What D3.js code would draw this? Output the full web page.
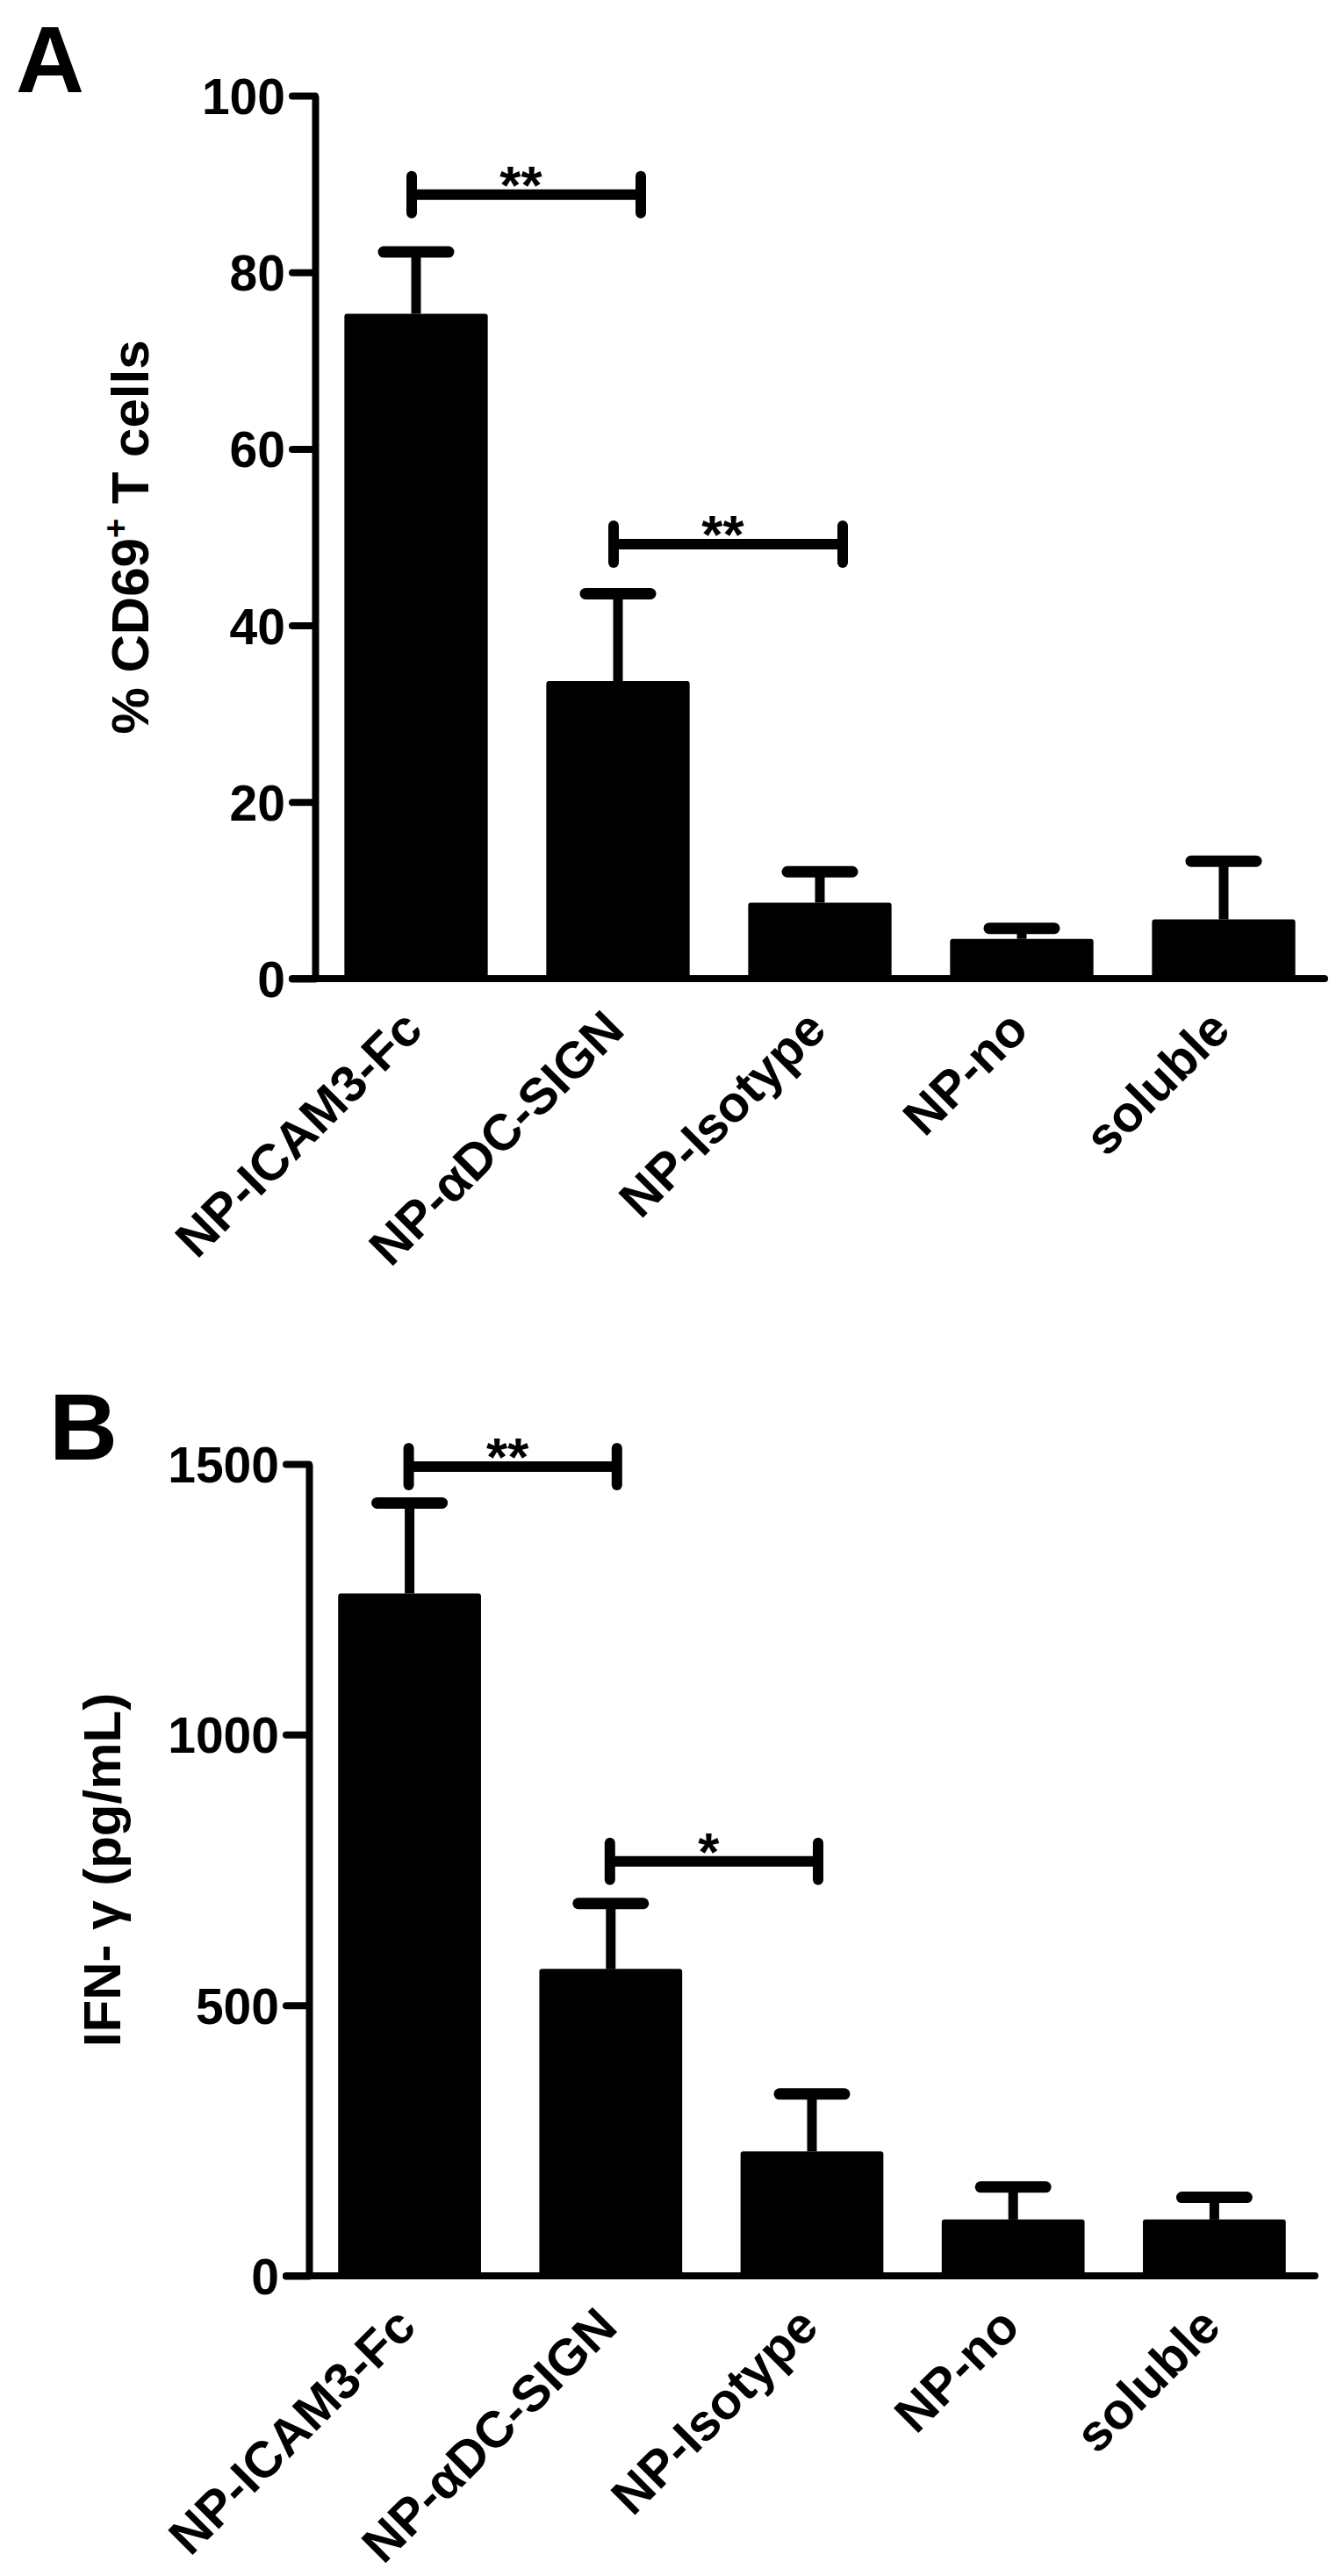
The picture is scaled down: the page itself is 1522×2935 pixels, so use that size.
<!DOCTYPE html>
<html>
<head>
<meta charset="utf-8">
<script src="https://cdn.jsdelivr.net/npm/d3@7"></script>
<style>
  body { margin: 0; background: #fff; }
  svg text { font-family: "Liberation Sans", Arial, sans-serif; font-weight: bold; }
</style>
</head>
<body>
<div id="chart"></div>
<script>
// Categories shared by both panels
var categories = ["NP-ICAM3-Fc", "NP-\u03B1DC-SIGN", "NP-Isotype", "NP-no", "soluble"];

// Panel A: % CD69+ T cells (mean and SEM)
var cd69Mean = [75.3, 33.7, 8.6, 4.5, 6.7];
var cd69Sem = [7.0, 9.9, 3.5, 1.2, 6.6];
var cd69Ticks = [0, 20, 40, 60, 80, 100];
var cd69Brackets = [
  {from: 0, to: 1, y: 88.8, label: "**"},
  {from: 1, to: 2, y: 49.2, label: "**"}
];

// Panel B: IFN-gamma (pg/mL)
var ifnMean = [1261, 567, 230, 104, 104];
var ifnSem = [167, 121, 106, 60, 41];
var ifnTicks = [0, 500, 1000, 1500];
var ifnBrackets = [
  {from: 0, to: 1, y: 1495, label: "**"},
  {from: 1, to: 2, y: 766, label: "*"}
];

var width = 1522;
var height = 2935;

var svg = d3.select("#chart")
  .append("svg")
  .attr("width", width)
  .attr("height", height);

svg.append("rect").attr("width", width).attr("height", height).attr("fill", "#fff");

function drawPanel(opt) {
  var g = svg.append("g");

  var x = d3.scaleBand()
    .domain(categories)
    .range([opt.x0, opt.x1])
    .paddingInner(0.29)
    .paddingOuter(0.145);

  var y = d3.scaleLinear()
    .domain([0, opt.ticks[opt.ticks.length - 1]])
    .range([opt.yBot, opt.yTop]);

  // y axis
  var yAxis = g.append("g")
    .attr("transform", "translate(" + opt.x0 + ",0)")
    .call(d3.axisLeft(y).tickValues(opt.ticks).tickFormat(d3.format("d"))
      .tickSize(26).tickSizeOuter(0).tickPadding(8));
  yAxis.select(".domain").attr("stroke-width", 8).attr("stroke", "#000");
  yAxis.selectAll(".tick line").attr("stroke-width", 8).attr("stroke-linecap", "round").attr("stroke", "#000");
  yAxis.selectAll(".tick text")
    .attr("font-size", 57)
    .attr("font-family", "Liberation Sans, Arial, sans-serif")
    .attr("font-weight", "bold")
    .attr("fill", "#000")
    .attr("dy", "0.36em");

  // x axis line
  g.append("line")
    .attr("x1", opt.x0 - 26).attr("x2", opt.x1)
    .attr("y1", y(0)).attr("y2", y(0))
    .attr("stroke", "#000").attr("stroke-width", 8).attr("stroke-linecap", "round");

  // bars
  g.selectAll("rect.bar")
    .data(opt.mean)
    .join("rect")
    .attr("class", "bar")
    .attr("x", function(d, i) { return x(categories[i]); })
    .attr("width", x.bandwidth())
    .attr("y", function(d) { return y(d); })
    .attr("height", function(d) { return y(0) - y(d); })
    .attr("rx", 3)
    .attr("fill", "#000");

  // error bars (upper only)
  var err = g.selectAll("g.err")
    .data(opt.mean)
    .join("g")
    .attr("class", "err");
  err.append("line")
    .attr("x1", function(d, i) { return x(categories[i]) + x.bandwidth() / 2; })
    .attr("x2", function(d, i) { return x(categories[i]) + x.bandwidth() / 2; })
    .attr("y1", function(d) { return y(d); })
    .attr("y2", function(d, i) { return y(d + opt.sem[i]); })
    .attr("stroke", "#000").attr("stroke-width", 11);
  err.append("line")
    .attr("x1", function(d, i) { return x(categories[i]) + x.bandwidth() / 2 - 37; })
    .attr("x2", function(d, i) { return x(categories[i]) + x.bandwidth() / 2 + 37; })
    .attr("y1", function(d, i) { return y(d + opt.sem[i]); })
    .attr("y2", function(d, i) { return y(d + opt.sem[i]); })
    .attr("stroke", "#000").attr("stroke-width", 13).attr("stroke-linecap", "round");

  // significance brackets
  var br = g.selectAll("g.bracket")
    .data(opt.brackets)
    .join("g")
    .attr("class", "bracket");
  function bl(d) { return x(categories[d.from]) + x.bandwidth() / 2 + opt.bracketPad[0]; }
  function brx(d) { return x(categories[d.to]) + x.bandwidth() / 2 + opt.bracketPad[1]; }
  br.append("line")
    .attr("x1", bl).attr("x2", brx)
    .attr("y1", function(d) { return y(d.y); }).attr("y2", function(d) { return y(d.y); })
    .attr("stroke", "#000").attr("stroke-width", 12);
  [bl, brx].forEach(function(fx) {
    br.append("line")
      .attr("x1", fx).attr("x2", fx)
      .attr("y1", function(d) { return y(d.y) - 21; })
      .attr("y2", function(d) { return y(d.y) + 21; })
      .attr("stroke", "#000").attr("stroke-width", 12).attr("stroke-linecap", "round");
  });
  br.append("text")
    .attr("x", function(d) { return (bl(d) + brx(d)) / 2 - 6; })
    .attr("y", function(d) { return y(d.y) + 10; })
    .attr("text-anchor", "middle")
    .attr("font-size", 62)
    .attr("font-weight", "normal")
    .text(function(d) { return d.label; });

  // category labels
  g.selectAll("text.cat")
    .data(categories)
    .join("text")
    .attr("class", "cat")
    .attr("text-anchor", "end")
    .attr("font-size", 58)
    .attr("transform", function(d) {
      return "translate(" + (x(d) + x.bandwidth() / 2 + 10) + "," + (y(0) + 61) + ") rotate(-45)";
    })
    .text(function(d) { return d; });

  // y axis title
  var title = g.append("text")
    .attr("text-anchor", "middle")
    .attr("font-size", 60)
    .attr("transform", "translate(" + opt.labelX + "," + ((opt.yTop + opt.yBot) / 2) + ") rotate(-90)");
  opt.title(title);

  // panel letter
  g.append("text")
    .attr("x", opt.letterX)
    .attr("y", opt.letterY)
    .attr("font-size", 108)
    .text(opt.letter);
}

drawPanel({
  mean: cd69Mean, sem: cd69Sem, ticks: cd69Ticks, brackets: cd69Brackets,
  x0: 359, x1: 1509, yTop: 109, yBot: 1115,
  bracketPad: [-5, 26],
  labelX: 169, letter: "A", letterX: 18, letterY: 105,
  title: function(t) {
    t.append("tspan").text("% CD69");
    t.append("tspan").attr("font-size", 38).attr("dy", -24).text("+");
    t.append("tspan").attr("dy", 24).text(" T cells");
  }
});

drawPanel({
  mean: ifnMean, sem: ifnSem, ticks: ifnTicks, brackets: ifnBrackets,
  x0: 352, x1: 1498, yTop: 1668, yBot: 2593,
  bracketPad: [-1, 7],
  labelX: 137, letter: "B", letterX: 56, letterY: 1663,
  title: function(t) {
    t.text("IFN- \u03B3 (pg/mL)");
  }
});
</script>
</body>
</html>
